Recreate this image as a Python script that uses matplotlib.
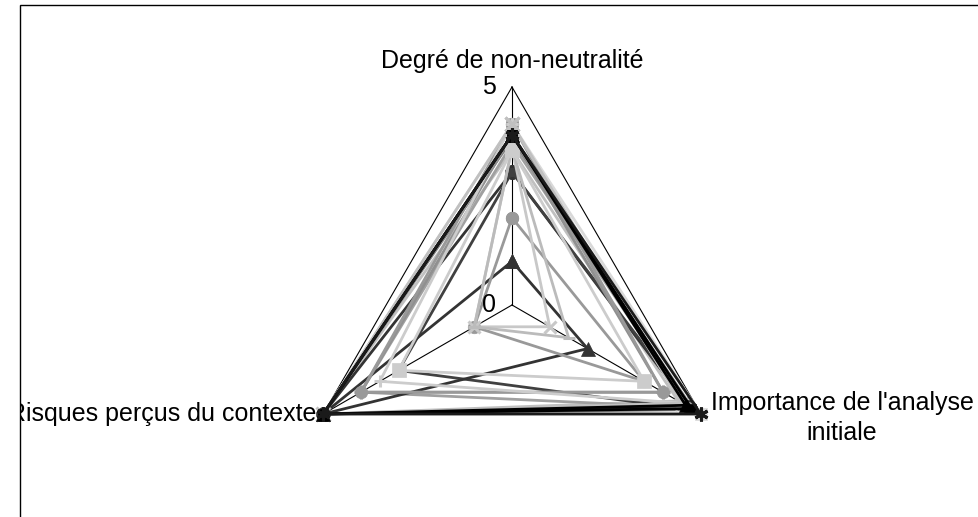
import numpy as np
import matplotlib
matplotlib.use("Agg")
import matplotlib.pyplot as plt
from matplotlib.transforms import Bbox, TransformedBbox
from matplotlib.patches import Rectangle

plt.rcParams['font.family'] = ['Liberation Sans', 'DejaVu Sans']

categories = ["Degré de non-neutralité", "Importance de l'analyse", "initiale", "Risques perçus du contexte"]
r_ticks = [0, 5]

# values per series: [Degré, Importance, Risques]
s01 = [3.9, 4.6, 5.0]
s02 = [3.9, 4.75, 5.0]
s03 = [3.05, 4.7, 5.0]
s04 = [1.0, 2.0, 5.0]
s05 = [2.0, 3.5, 1.0]
s06 = [3.6, 1.0, 1.0]
s07 = [3.6, 1.5, 1.0]
s08 = [3.55, 3.5, 3.0]
s09 = [4.15, 4.0, 4.0]
s10 = [3.9, 4.0, 4.0]
s11 = [4.15, 4.5, 3.5]
s12 = [4.15, 4.5, 5.0]
s13 = [3.9, 5.0, 5.0]
s14 = [4.15, 5.0, 5.0]
s15 = [3.8, 4.8, 5.0]
s16 = [3.55, 4.4, 5.0]
s17 = [3.05, 4.8, 3.0]
s18 = [3.7, 4.7, 4.0]

series = [s16, s15, s14, s03, s17, s18, s04, s05, s06, s07, s10, s09, s11, s08, s12, s02, s01, s13]
colors = ['#c0c0c0', '#808080', '#d9d9d9', '#333333', '#404040', '#a0a0a0', '#333333',
          '#999999', '#c8c8c8', '#bbbbbb', '#909090', '#999999', '#cccccc', '#cccccc',
          '#c0c0c0', '#000000', '#000000', '#1a1a1a']
markers = ['o', 's', 's', 'o', 's', 'o', '^', 'o', 'x', '_', '+', 'o', '+', 's', 'x', 's', '^', (6, 2, 0)]
msizes = [6, 6, 9, 10, 6, 7, 10, 9, 9, 9, 10, 9, 9, 10, 10, 7, 10, 10]

W, H = 979, 517
fig = plt.figure(figsize=(W / 100, H / 100), dpi=100)

cx, cy, R = 512, 305, 218
ax = fig.add_axes([(cx - R) / W, (H - cy - R) / H, 2 * R / W, 2 * R / H], projection='polar')
ax.set_theta_zero_location('N')
ax.set_theta_direction(-1)
ax.set_ylim(0, 5)
ax.grid(False)
ax.set_xticks([])
ax.set_yticks([])
ax.spines['polar'].set_visible(False)
ax.patch.set_visible(False)

theta = np.deg2rad([0, 120, 240])
tc = np.append(theta, theta[0])

# outer grid triangle and spokes
ax.plot(tc, [r_ticks[-1]] * 4, color='black', lw=0.8, clip_on=False, zorder=1)
for t in theta:
    ax.plot([t, t], [0, r_ticks[-1]], color='black', lw=0.8, clip_on=False, zorder=1)

for i, (vals, c, m, ms) in enumerate(zip(series, colors, markers, msizes)):
    v = np.append(vals, vals[0])
    lined = isinstance(m, tuple) or m in ('x', '+', '_')
    ax.plot(tc, v, color=c, lw=2.0, marker=m, markersize=ms, markeredgewidth=2.2 if lined else 0.5,
            markerfacecolor=c, markeredgecolor=c, clip_on=False, zorder=2 + (1 if i == len(series) - 1 else 0))

fs = 18
# tick labels
fig.text(489 / W, 1 - 94 / H, str(r_ticks[-1]), ha='center', va='baseline', fontsize=fs)
fig.text(489 / W, 1 - 312 / H, str(r_ticks[0]), ha='center', va='baseline', fontsize=fs)

# category labels
fig.text(512 / W, 1 - 68 / H, categories[0], ha='center', va='baseline', fontsize=fs)
fig.text(842 / W, 1 - 410 / H, categories[1], ha='center', va='baseline', fontsize=fs)
fig.text(842 / W, 1 - 440 / H, categories[2], ha='center', va='baseline', fontsize=fs)
clipbox = TransformedBbox(Bbox.from_extents(20 / W, 0, 1, 1), fig.transFigure)
t = fig.text(316 / W, 1 - 421 / H, categories[3], ha='right', va='baseline', fontsize=fs)
t.set_clip_box(clipbox)
t.set_clip_on(True)

# chart area border
fig.add_artist(Rectangle((20 / W, -0.1), 1.2, 1 - 5 / H + 0.1, transform=fig.transFigure,
                         fill=False, edgecolor='black', lw=1.0, clip_on=False))

fig.savefig('out.png', dpi=100)
